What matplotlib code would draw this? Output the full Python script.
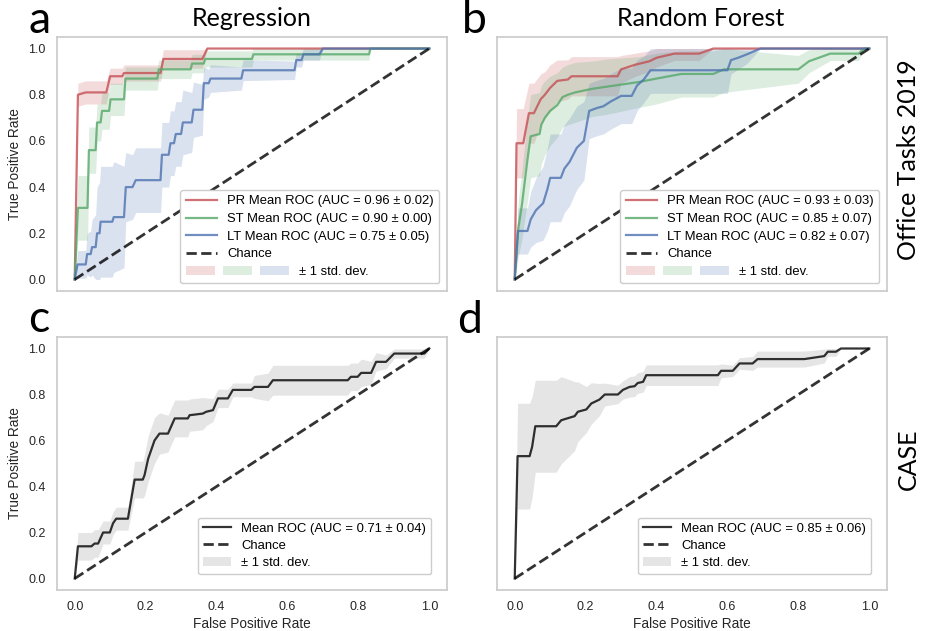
import numpy as np
import matplotlib
matplotlib.use("Agg")
import matplotlib.pyplot as plt
import matplotlib.patches as mpatches
from matplotlib.legend_handler import HandlerTuple

# ---- data ----
# (a) Regression, Office Tasks 2019
pr_reg_fpr = [0, 0.009, 0.031, 0.089, 0.10, 0.134, 0.139, 0.242, 0.25, 0.36, 0.374, 1.0]
pr_reg_tpr = [0, 0.80, 0.81, 0.81, 0.88, 0.88, 0.894, 0.894, 0.955, 0.955, 1.0, 1.0]
pr_reg_std = [0, 0.05, 0.05, 0.05, 0.035, 0.035, 0.035, 0.035, 0.04, 0.04, 0, 0]

st_reg_fpr = [0, 0.009, 0.036, 0.04, 0.059, 0.063, 0.073, 0.077, 0.097, 0.101, 0.139, 0.143,
              0.233, 0.237, 0.327, 0.331, 0.364, 0.368, 0.50, 0.504, 0.83, 0.834, 1.0]
st_reg_tpr = [0, 0.31, 0.31, 0.56, 0.56, 0.68, 0.68, 0.73, 0.73, 0.78, 0.78, 0.87,
              0.87, 0.91, 0.91, 0.935, 0.935, 0.955, 0.955, 0.975, 0.975, 1.0, 1.0]
st_reg_std = [0, 0.14, 0.14, 0.1, 0.1, 0.08, 0.08, 0.08, 0.08, 0.07, 0.07, 0.05,
              0.05, 0.04, 0.04, 0.04, 0.04, 0.035, 0.035, 0.025, 0.025, 0, 0]

lt_reg_fpr = [0, 0.008, 0.031, 0.035, 0.045, 0.049, 0.059, 0.063, 0.07, 0.073,
              0.106, 0.11, 0.139, 0.144, 0.163, 0.172, 0.242, 0.246, 0.265, 0.27,
              0.28, 0.285, 0.30, 0.305, 0.33, 0.335, 0.36, 0.364, 0.378, 0.383,
              0.47, 0.475, 0.62, 0.625, 0.64, 0.645, 0.69, 0.70, 1.0]
lt_reg_tpr = [0, 0.065, 0.065, 0.11, 0.11, 0.14, 0.14, 0.20, 0.20, 0.25,
              0.25, 0.27, 0.27, 0.40, 0.40, 0.43, 0.43, 0.54, 0.54, 0.59,
              0.59, 0.63, 0.63, 0.68, 0.68, 0.735, 0.735, 0.85, 0.85, 0.87,
              0.87, 0.906, 0.906, 0.95, 0.95, 0.975, 0.975, 1.0, 1.0]
lt_reg_std = [0, 0.06, 0.06, 0.09, 0.1, 0.12, 0.14, 0.2, 0.22, 0.24,
              0.24, 0.24, 0.22, 0.15, 0.14, 0.14, 0.14, 0.14, 0.14, 0.14,
              0.14, 0.14, 0.14, 0.14, 0.13, 0.12, 0.11, 0.07, 0.06, 0.06,
              0.05, 0.045, 0.04, 0.03, 0.03, 0.025, 0.025, 0, 0]

# (b) Random Forest, Office Tasks 2019
pr_rf_fpr = [0, 0.005, 0.024, 0.04, 0.054, 0.073, 0.085, 0.10, 0.12, 0.15,
             0.16, 0.29, 0.30, 0.34, 0.38, 0.40, 0.45, 0.52, 0.56, 1.0]
pr_rf_tpr = [0, 0.59, 0.59, 0.72, 0.72, 0.78, 0.80, 0.83, 0.86, 0.866,
             0.88, 0.88, 0.91, 0.93, 0.945, 0.96, 0.978, 0.978, 1.0, 1.0]
pr_rf_std = [0, 0.15, 0.15, 0.13, 0.13, 0.11, 0.1, 0.1, 0.09, 0.085,
             0.085, 0.085, 0.06, 0.05, 0.045, 0.04, 0.03, 0.03, 0, 0]

st_rf_fpr = [0, 0.01, 0.02, 0.036, 0.045, 0.07, 0.075, 0.085, 0.10, 0.12,
             0.135, 0.15, 0.17, 0.22, 0.26, 0.35, 0.40, 0.47, 0.56, 0.59,
             0.80, 0.83, 0.89, 0.97, 0.985, 1.0]
st_rf_tpr = [0, 0.22, 0.32, 0.52, 0.62, 0.63, 0.67, 0.70, 0.73, 0.755,
             0.79, 0.80, 0.81, 0.826, 0.835, 0.855, 0.87, 0.89, 0.89, 0.91,
             0.91, 0.945, 0.978, 0.978, 1.0, 1.0]
st_rf_std = [0, 0.12, 0.15, 0.18, 0.18, 0.18, 0.17, 0.16, 0.15, 0.14,
             0.13, 0.13, 0.13, 0.12, 0.12, 0.11, 0.11, 0.1, 0.1, 0.1,
             0.06, 0.05, 0.03, 0.03, 0, 0]

lt_rf_fpr = [0, 0.009, 0.036, 0.045, 0.06, 0.08, 0.092, 0.10, 0.13, 0.14,
             0.155, 0.175, 0.195, 0.21, 0.233, 0.25, 0.27, 0.30, 0.33, 0.345,
             0.364, 0.383, 0.60, 0.61, 0.63, 0.655, 0.693, 1.0]
lt_rf_tpr = [0, 0.21, 0.21, 0.26, 0.30, 0.33, 0.39, 0.44, 0.44, 0.48,
             0.51, 0.57, 0.60, 0.73, 0.743, 0.75, 0.77, 0.795, 0.795, 0.84,
             0.866, 0.906, 0.906, 0.95, 0.96, 0.975, 1.0, 1.0]
lt_rf_std = [0, 0.1, 0.1, 0.12, 0.14, 0.16, 0.18, 0.19, 0.19, 0.19,
             0.19, 0.18, 0.17, 0.12, 0.12, 0.12, 0.12, 0.12, 0.12, 0.11,
             0.1, 0.1, 0.1, 0.06, 0.05, 0.04, 0, 0]

# (c) Regression, CASE
case_reg_fpr = [0, 0.009, 0.047, 0.056, 0.066, 0.08, 0.099, 0.108, 0.117, 0.150,
                0.169, 0.192, 0.197, 0.207, 0.216, 0.225, 0.239, 0.263, 0.282, 0.319,
                0.324, 0.361, 0.371, 0.39, 0.404, 0.432, 0.446, 0.498, 0.507, 0.545,
                0.559, 0.77, 0.779, 0.798, 0.808, 0.836, 0.85, 0.878, 0.901, 0.986, 1.0]
case_reg_tpr = [0, 0.14, 0.14, 0.152, 0.152, 0.20, 0.20, 0.24, 0.26, 0.26,
                0.43, 0.43, 0.45, 0.52, 0.56, 0.60, 0.63, 0.63, 0.696, 0.696,
                0.71, 0.717, 0.725, 0.732, 0.783, 0.783, 0.82, 0.82, 0.833, 0.833,
                0.862, 0.862, 0.877, 0.877, 0.894, 0.894, 0.942, 0.942, 0.978, 0.978, 1.0]
case_reg_std = [0, 0.06, 0.06, 0.06, 0.06, 0.05, 0.05, 0.05, 0.05, 0.05,
                0.08, 0.08, 0.09, 0.1, 0.1, 0.1, 0.09, 0.08, 0.08, 0.08,
                0.07, 0.07, 0.06, 0.05, 0.04, 0.04, 0.03, 0.03, 0.05, 0.06,
                0.065, 0.065, 0.06, 0.06, 0.06, 0.05, 0.04, 0.03, 0.02, 0.02, 0]

# (d) Random Forest, CASE
case_rf_fpr = [0, 0.008, 0.042, 0.049, 0.058, 0.117, 0.131, 0.169, 0.178, 0.202,
               0.216, 0.239, 0.254, 0.291, 0.305, 0.324, 0.338, 0.347, 0.362, 0.371,
               0.573, 0.582, 0.615, 0.634, 0.671, 0.685, 0.817, 0.873, 0.883, 0.906,
               0.92, 1.0]
case_rf_tpr = [0, 0.532, 0.532, 0.572, 0.662, 0.662, 0.688, 0.706, 0.725, 0.735,
               0.761, 0.778, 0.80, 0.80, 0.82, 0.833, 0.836, 0.85, 0.855, 0.884,
               0.884, 0.903, 0.903, 0.935, 0.935, 0.954, 0.954, 0.967, 0.986, 0.986,
               1.0, 1.0]
case_rf_std = [0, 0.23, 0.23, 0.22, 0.2, 0.2, 0.19, 0.15, 0.13, 0.1,
               0.09, 0.07, 0.05, 0.04, 0.04, 0.045, 0.045, 0.045, 0.045, 0.045,
               0.045, 0.03, 0.025, 0.025, 0.03, 0.035, 0.035, 0.03, 0.02, 0.02,
               0, 0]

auc_labels_reg = ["PR Mean ROC (AUC = 0.96 \u00b1 0.02)",
                  "ST Mean ROC (AUC = 0.90 \u00b1 0.00)",
                  "LT Mean ROC (AUC = 0.75 \u00b1 0.05)"]
auc_labels_rf = ["PR Mean ROC (AUC = 0.93 \u00b1 0.03)",
                 "ST Mean ROC (AUC = 0.85 \u00b1 0.07)",
                 "LT Mean ROC (AUC = 0.82 \u00b1 0.07)"]
case_label_reg = "Mean ROC (AUC = 0.71 \u00b1 0.04)"
case_label_rf = "Mean ROC (AUC = 0.85 \u00b1 0.06)"

RED, GREEN, BLUE = "#C44E52", "#55A868", "#4C72B0"
W, H = 925.0, 631.0
LEG_FS = 9.4


class WideTuple(HandlerTuple):
    # wider handle box for the three std-dev patches
    def legend_artist(self, legend, orig_handle, fontsize, handlebox):
        handlebox.width = handlebox.width * 3.3
        return super().legend_artist(legend, orig_handle, fontsize, handlebox)


def style_axes(ax, xticks, yticks):
    ax.set_xlim(-0.05, 1.05)
    ax.set_ylim(-0.05, 1.05)
    ax.set_facecolor("white")
    for s in ax.spines.values():
        s.set_color("#cccccc")
        s.set_linewidth(1.25)
    ax.tick_params(length=0, pad=8, labelsize=9, colors="#262626")
    ax.set_xticks(np.arange(0, 1.01, 0.2))
    ax.set_yticks(np.arange(0, 1.01, 0.2))
    if not xticks:
        ax.set_xticklabels([])
    if not yticks:
        ax.set_yticklabels([])


def band(ax, fpr, tpr, std, color, fill, lw=1.6, label=None):
    fpr = np.array(fpr)
    tpr = np.array(tpr)
    std = np.array(std)
    ax.fill_between(fpr, np.clip(tpr - std, 0, 1), np.clip(tpr + std, 0, 1),
                    color=fill, alpha=0.2, lw=0)
    line, = ax.plot(fpr, tpr, color=color, lw=lw, alpha=0.8, label=label)
    return line


def chance(ax):
    line, = ax.plot([0, 1], [0, 1], linestyle="--", lw=2, color="k", alpha=0.8, label="Chance")
    return line


def three_panel(ax, curves, labels):
    lines = []
    for (fpr, tpr, std), color, lab in zip(curves, [RED, GREEN, BLUE], labels):
        lines.append(band(ax, fpr, tpr, std, color, color, label=lab))
    ch = chance(ax)
    patches = tuple(mpatches.Patch(facecolor=c, alpha=0.2, lw=0) for c in [RED, GREEN, BLUE])
    ax.legend(lines + [ch, patches], labels + ["Chance", "\u00b1 1 std. dev."],
              handler_map={tuple: WideTuple(ndivide=None, pad=0.6)},
              loc="lower right", fontsize=LEG_FS, borderaxespad=0.6, handlelength=2.4,
              labelspacing=0.42, edgecolor="#cccccc", framealpha=1)


def case_panel(ax, fpr, tpr, std, label):
    ln = band(ax, fpr, tpr, std, "k", "grey", label=label)
    ch = chance(ax)
    patch = mpatches.Patch(facecolor="grey", alpha=0.2, lw=0)
    ax.legend([ln, ch, patch], [label, "Chance", "\u00b1 1 std. dev."],
              loc="lower right", fontsize=LEG_FS, borderaxespad=1.2, handlelength=2.1,
              labelspacing=0.38, edgecolor="#cccccc", framealpha=1)


def main():
    plt.rcParams["font.family"] = ["Liberation Sans", "DejaVu Sans"]
    fig = plt.figure(figsize=(W / 100, H / 100), dpi=100)

    def add(l, t, r, b):
        return fig.add_axes([l / W, 1 - b / H, (r - l) / W, (b - t) / H])

    ax_a = add(57, 37, 447, 291)
    ax_b = add(497, 37, 887, 291)
    ax_c = add(57, 337, 447, 590)
    ax_d = add(497, 337, 887, 590)

    three_panel(ax_a, [(pr_reg_fpr, pr_reg_tpr, pr_reg_std),
                       (st_reg_fpr, st_reg_tpr, st_reg_std),
                       (lt_reg_fpr, lt_reg_tpr, lt_reg_std)], auc_labels_reg)
    three_panel(ax_b, [(pr_rf_fpr, pr_rf_tpr, pr_rf_std),
                       (st_rf_fpr, st_rf_tpr, st_rf_std),
                       (lt_rf_fpr, lt_rf_tpr, lt_rf_std)], auc_labels_rf)
    case_panel(ax_c, case_reg_fpr, case_reg_tpr, case_reg_std, case_label_reg)
    case_panel(ax_d, case_rf_fpr, case_rf_tpr, case_rf_std, case_label_rf)

    style_axes(ax_a, False, True)
    style_axes(ax_b, False, False)
    style_axes(ax_c, True, True)
    style_axes(ax_d, True, False)
    for ax in (ax_a, ax_c):
        ax.set_ylabel("True Positive Rate", fontsize=9.8, color="#262626", labelpad=5)
    for ax in (ax_c, ax_d):
        ax.set_xlabel("False Positive Rate", fontsize=9.8, color="#262626", labelpad=3)

    big = dict(family=["Lato", "DejaVu Sans"], color="black")
    fig.text(28 / W, 1 - 33 / H, "a", fontsize=32, ha="left", va="baseline", **big)
    fig.text(462 / W, 1 - 33 / H, "b", fontsize=32, ha="left", va="baseline", **big)
    fig.text(28 / W, 1 - 332 / H, "c", fontsize=32, ha="left", va="baseline", **big)
    fig.text(457 / W, 1 - 333 / H, "d", fontsize=32, ha="left", va="baseline", **big)
    fig.text(252 / W, 1 - 18 / H, "Regression", fontsize=18, ha="center", va="center", **big)
    fig.text(701 / W, 1 - 18 / H, "Random Forest", fontsize=18, ha="center", va="center", **big)
    fig.text(908 / W, 1 - 160 / H, "Office Tasks 2019", fontsize=18, rotation=90,
             ha="center", va="center", **big)
    fig.text(908 / W, 1 - 459 / H, "CASE", fontsize=18, rotation=90,
             ha="center", va="center", **big)

    fig.savefig("out.png", dpi=100, facecolor="white")
    plt.close(fig)


if __name__ == "__main__":
    main()
